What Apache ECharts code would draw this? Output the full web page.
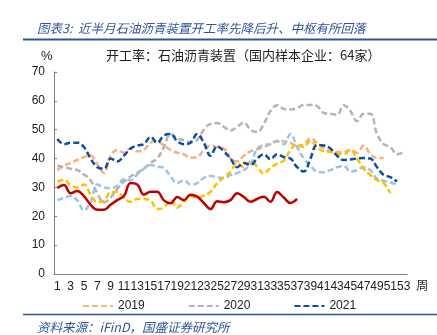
<!DOCTYPE html>
<html><head><meta charset="utf-8">
<script src="https://cdn.jsdelivr.net/npm/echarts@6/dist/echarts.min.js"></script>
<style>html,body{margin:0;padding:0;background:#fff}#c{width:437px;height:335px}</style>
</head><body><div id="c"></div>
<script>
var weeks = [];
for (var i = 1; i <= 53; i++) weeks.push(String(i));
var yTicks = [0, 10, 20, 30, 40, 50, 60, 70];
var titleText = '图表3:  近半月石油沥青装置开工率先降后升、中枢有所回落';
var subTitle = '开工率：石油沥青装置（国内样本企业：64家）';
var sourceText = '资料来源：iFinD，国盛证券研究所';

var s2019 = [36,37.5,38.5,39.5,40.5,41,38,35,41,43,42,43.5,42.5,43,45.5,46,44.5,43,42,41.5,40.3,40.5,43,44.5,44,43.5,40,39,41,42.5,43.2,44,45,46.2,46,45.5,44,45,47,45.5,43.5,42.5,42.3,42.3,43,42,44.5,41.5,40.2,40.2];
var s2020 = [37.5,37,36.5,36,34.5,32.5,28,24.8,26.5,29.5,32,33.8,35,36.5,38.5,40,44,48.5,47,46.3,45.7,46.5,50,52,52.3,51,49.7,51,52.5,50,49.2,52,56.5,58.5,57.2,57,57.5,58.6,58.6,58.2,55.8,55.5,55.2,58.5,56.5,53,55.5,55.5,48.5,45,44,41.5,42.3];
var s2021 = [46.8,45,45.5,45.5,44,40,37,36.5,40,39,41,43.5,44.5,45,47.5,45.5,48,48.5,46,45,45.5,48.5,45.5,41,44.3,42.5,40,37,38.5,37.8,40,41.5,39.8,41.5,40.5,40,37,35.5,40,44.7,44.5,43.5,41,39.5,39.7,40,40.2,40,37,34.3,33.6,32];
var sLightBlue = [25.6,26.3,27,25.5,22,25,31,30,29.8,30.5,32.8,32.5,34.5,36.5,37.8,37.2,36.7,33.8,31.5,32.5,31,31.5,33.3,34,33.5,33.3,34.3,35,36,38,43.5,44.7,45,46,45,48.5,44,40,37.5,35.5,35.3,36,37,37.5,35.5,36,37,36,33,32.3,31.7,31];
var sYellow = [32,32.6,30.8,30,31,27.5,25,25.3,28.4,28.5,26.3,25,26,26,25.5,22.5,23,25.5,23,25,27,26.5,27.2,28.5,31.5,33.5,35.5,38.3,37,39,37.2,34.8,36.8,38.2,39.3,43,45,44,46.2,44,42.5,42.3,41.5,41.5,43,40,36.5,34.3,32.5,31.5,28];
var sRed = [29.8,30.8,28,28.8,27,24,22.3,22.3,24,25.6,27,31.5,31,27.5,28.5,28.5,25.5,24.5,26.7,25.6,27.5,26.8,24.6,22.5,25.2,24.9,25.6,28,26.7,25,26,26.8,25,28.4,26.5,24.6,26];

function dashed(name, data, color, z) {
  return {name: name, type: 'line', data: data, smooth: 0.4, symbol: 'none', z: z,
    lineStyle: {color: color, width: 2.5, type: [6, 3]}, itemStyle: {color: color}};
}

var chart = echarts.init(document.getElementById('c'), null, {renderer: 'canvas'});
chart.setOption({
  animation: false,
  backgroundColor: '#fff',
  title: [
    {text: titleText, left: 32, top: 17, textStyle: {fontSize: 12.5, fontStyle: 'italic', fontWeight: 'normal', color: '#2f5597', fontFamily: 'Noto Sans CJK SC'}},
    {text: subTitle, left: 101, top: 44, textStyle: {fontSize: 13, fontWeight: 'normal', color: '#222', fontFamily: 'Noto Sans CJK SC'}},
    {text: '%', left: 36, top: 45, textStyle: {fontSize: 13, fontWeight: 'normal', color: '#222', fontFamily: 'Liberation Sans'}},
    {text: sourceText, left: 32, top: 316, textStyle: {fontSize: 12.5, fontStyle: 'italic', fontWeight: 'normal', color: '#2f5597', fontFamily: 'Noto Sans CJK SC'}}
  ],
  graphic: [
    {type: 'line', shape: {x1: 23, y1: 39.5, x2: 437, y2: 39.5}, style: {stroke: '#2f5597', lineWidth: 2}},
    {type: 'line', shape: {x1: 23, y1: 314.5, x2: 437, y2: 314.5}, style: {stroke: '#2f5597', lineWidth: 1.5}}
  ],
  legend: {
    data: ['2019', '2020', '2021'],
    left: 77, top: 295, itemWidth: 30, itemHeight: 14, itemGap: 43,
    itemStyle: {opacity: 0},
    textStyle: {fontSize: 12, color: '#222', fontFamily: 'Liberation Sans'}
  },
  grid: {left: 54, right: 30, top: 72, bottom: 61},
  xAxis: {
    type: 'category', data: weeks, boundaryGap: true,
    name: '周', nameLocation: 'end', nameGap: 8,
    nameTextStyle: {fontSize: 12, color: '#222', verticalAlign: 'top', padding: [5, 0, 0, 0], fontFamily: 'Noto Sans CJK SC'},
    axisLine: {lineStyle: {color: '#808080', width: 1}},
    axisTick: {show: false},
    axisLabel: {interval: 1, fontSize: 12, color: '#222', margin: 7, fontFamily: 'Liberation Sans'},
    splitLine: {show: false}
  },
  yAxis: {
    type: 'value', min: yTicks[0], max: yTicks[yTicks.length - 1], interval: 10,
    axisLine: {show: true, lineStyle: {color: '#808080', width: 1}},
    axisTick: {show: true, inside: true, length: 3, lineStyle: {color: '#808080'}},
    axisLabel: {fontSize: 12, color: '#222', margin: 9, fontFamily: 'Liberation Sans'},
    splitLine: {show: false}
  },
  series: [
    dashed('2019', s2019, '#f4b183', 2),
    dashed('2020', s2020, '#b4b4b4', 2),
    dashed('2022', sLightBlue, '#9dc3e6', 2),
    dashed('2023', sYellow, '#ffc000', 3),
    dashed('2021', s2021, '#0b4ea2', 4),
    {name: '2024', type: 'line', data: sRed, smooth: 0.4, symbol: 'none', z: 5,
      lineStyle: {color: '#c00000', width: 2.5, type: 'solid'}, itemStyle: {color: '#c00000'}}
  ]
});
</script></body></html>
